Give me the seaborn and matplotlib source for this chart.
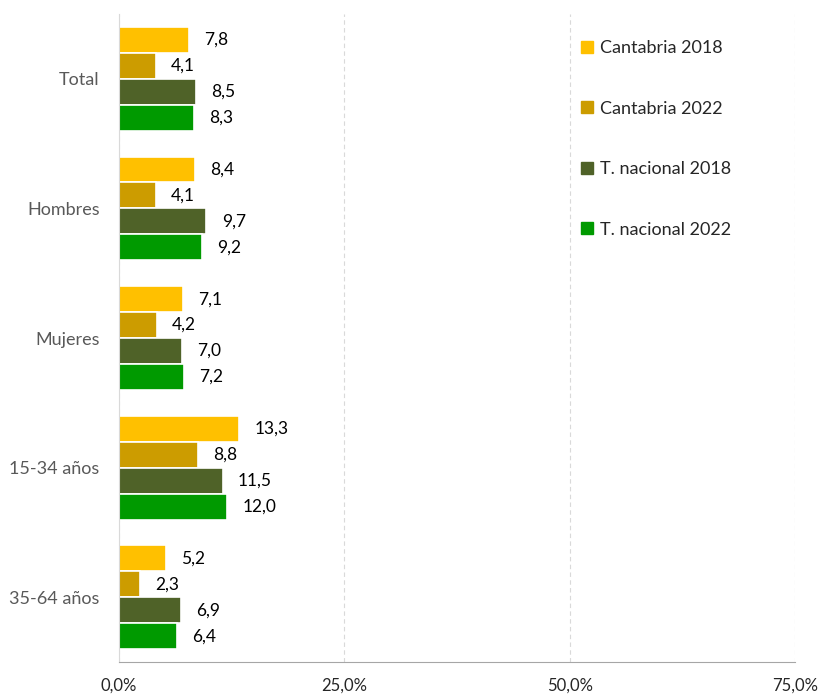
import pandas as pd
import seaborn as sns
from matplotlib import pyplot as plt
from matplotlib.lines import Line2D

categories = ['Total', 'Hombres', 'Mujeres', '15-34 años', '35-64 años']
series = ['Cantabria 2018', 'Cantabria 2022', 'T. nacional 2018', 'T. nacional 2022']
cant_2018 = [7.8, 8.4, 7.1, 13.3, 5.2]
cant_2022 = [4.1, 4.1, 4.2, 8.8, 2.3]
nac_2018 = [8.5, 9.7, 7.0, 11.5, 6.9]
nac_2022 = [8.3, 9.2, 7.2, 12.0, 6.4]
xticks = [0, 25, 50, 75]
custom_colors = ['#FFC000', '#CC9C00', '#4F6228', '#009A00']

rows = []
for name, vals in zip(series, [cant_2018, cant_2022, nac_2018, nac_2022]):
    for cat, v in zip(categories, vals):
        rows.append(dict(cat=cat, serie=name, val=v))
df = pd.DataFrame(rows)

sns.set_style('white')
plt.rcParams['font.family'] = ['Lato', 'DejaVu Sans']

fig = plt.figure(figsize=(8.18, 6.97), dpi=100)
ax = fig.add_axes([0.1455, 0.05, 0.8265, 0.93])
sns.barplot(data=df, y='cat', x='val', hue='serie', order=categories,
            hue_order=series, palette=custom_colors, orient='h', width=0.8,
            edgecolor='white', linewidth=1.2, saturation=1, ax=ax, legend=False)

for cont in ax.containers:
    ax.bar_label(cont, labels=[f'{v:.1f}'.replace('.', ',') for v in cont.datavalues],
                 padding=11, fontsize=12.5, color='black')

ax.set_xlim(0, 75)
ax.set_ylim(4.5, -0.5)
ax.set_xticks(xticks)
ax.set_xticklabels([f'{t:.1f}'.replace('.', ',') + '%' for t in xticks], fontsize=12)
ax.tick_params(axis='x', length=5, width=1, color='#A6A6A6', pad=6, direction='out')
ax.tick_params(axis='y', length=0, pad=14, labelsize=13, labelcolor='#595959')
ax.xaxis.grid(True, color='#D9D9D9', linestyle=(0, (4, 3)), linewidth=0.8)
ax.set_axisbelow(True)
for s in ['top', 'right']:
    ax.spines[s].set_visible(False)
ax.spines['left'].set_color('#D9D9D9')
ax.spines['bottom'].set_color('#A6A6A6')
ax.set_xlabel('')
ax.set_ylabel('')

handles = [Line2D([], [], marker='s', linestyle='', markersize=8,
                  markerfacecolor=c, markeredgecolor=c) for c in custom_colors]
ax.legend(handles, series, loc='upper left', bbox_to_anchor=(0.652, 0.985),
          frameon=False, fontsize=13, labelspacing=2.47, handletextpad=0.1,
          handlelength=1.2)

plt.savefig('out.png', dpi=100)
plt.close()
